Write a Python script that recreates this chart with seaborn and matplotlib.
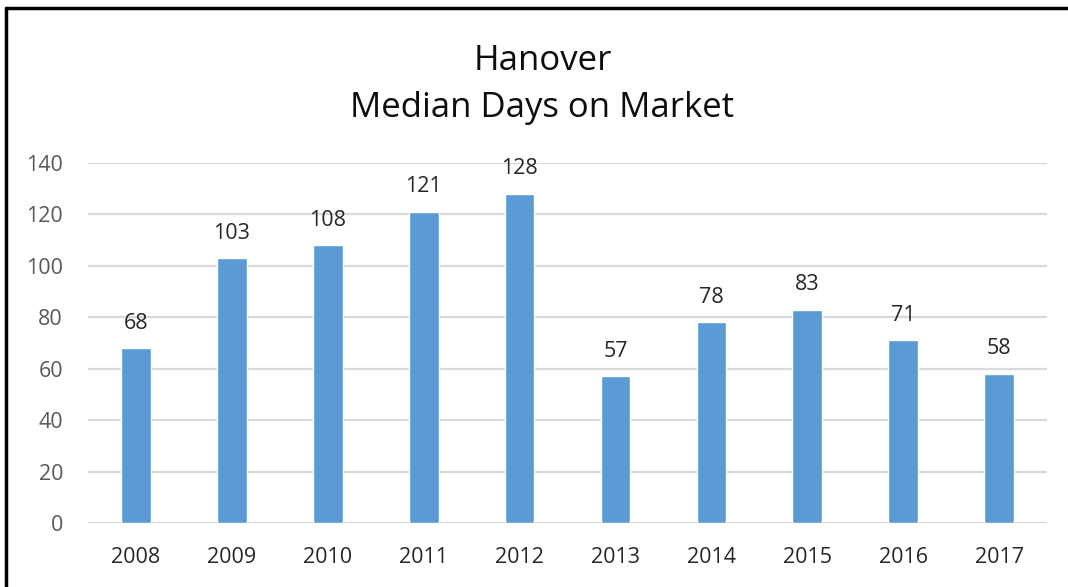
import matplotlib
matplotlib.use('Agg')
import matplotlib.pyplot as plt
import seaborn as sns
import pandas as pd
from matplotlib.lines import Line2D

years = ['2008', '2009', '2010', '2011', '2012', '2013', '2014', '2015', '2016', '2017']
days = [68, 103, 108, 121, 128, 57, 78, 83, 71, 58]
yticks = [0, 20, 40, 60, 80, 100, 120, 140]

df = pd.DataFrame({'Year': years, 'Days': days})

sns.set_style('white')
plt.rcParams['font.family'] = ['Open Sans', 'DejaVu Sans']

fig = plt.figure(figsize=(10.68, 5.87), dpi=100)
ax = fig.add_axes([0.0824, 0.109, 0.898, 0.6133])

sns.barplot(data=df, x='Year', y='Days', color='#5B9BD5', width=0.31,
            saturation=1, ax=ax, zorder=3)

ax.set_ylim(0, 140)
ax.set_xlim(-0.5, len(years) - 0.5)
ax.set_yticks(yticks)
ax.yaxis.grid(True, color='#D9D9D9', linewidth=1.6)
ax.set_axisbelow(True)
for s in ax.spines.values():
    s.set_visible(False)
ax.tick_params(axis='both', length=0, labelsize=15.5, colors='#595959')
ax.tick_params(axis='x', pad=17, labelcolor='#262626')
ax.tick_params(axis='y', pad=18)
ax.set_xlabel('')
ax.set_ylabel('')

# data labels above bars
for i, v in enumerate(days):
    ax.annotate(str(v), (i, v), xytext=(0, 14), textcoords='offset points',
                ha='center', va='baseline', fontsize=15.5, color='#262626')

fig.text(0.508, 0.896, 'Hanover', ha='center', va='center', fontsize=25, color='#0D0D0D')
fig.text(0.508, 0.816, 'Median Days on Market', ha='center', va='center', fontsize=25, color='#0D0D0D')

# border of the chart frame (left and top only)
fig.add_artist(Line2D([0.0056, 0.0056], [0, 0.986], color='black', linewidth=2.5, transform=fig.transFigure))
fig.add_artist(Line2D([0.0056, 1.0], [0.986, 0.986], color='black', linewidth=2.5, transform=fig.transFigure))

fig.savefig('out.png', dpi=100)
